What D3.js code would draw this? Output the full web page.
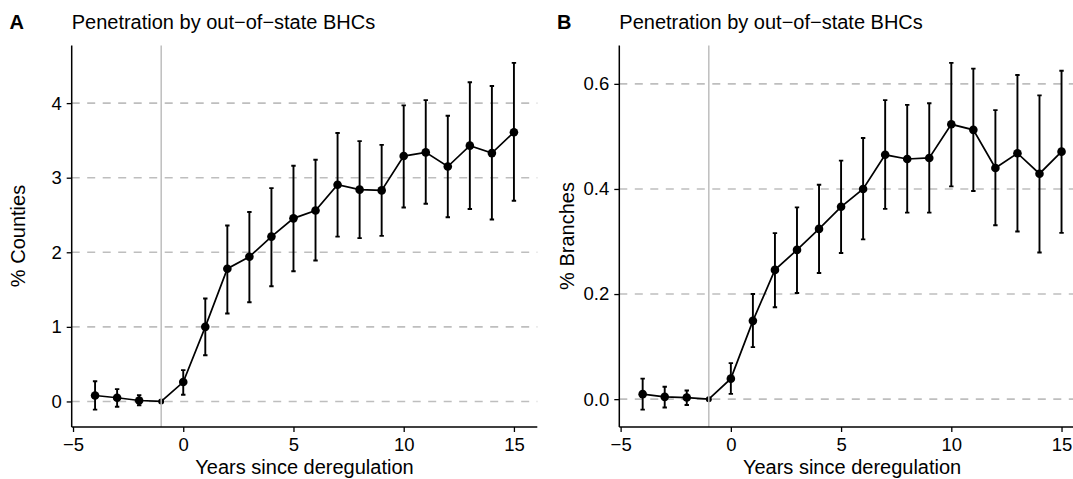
<!DOCTYPE html>
<html>
<head>
<meta charset="utf-8">
<script src="https://cdn.jsdelivr.net/npm/d3@7"></script>
<style>
  body { margin: 0; background: #fff; }
  svg { display: block; font-family: "Liberation Sans", Arial, Helvetica, sans-serif; }
</style>
</head>
<body>
<div id="chart"></div>
<script>
var width = 1073,
	height = 479;

// event time (years since deregulation)
var years = [-4, -3, -2, -1, 0, 1, 2, 3, 4, 5, 6, 7, 8, 9, 10, 11, 12, 13, 14, 15];

// panel A: % counties
var countiesEst = [0.08, 0.05, 0.013, 0, 0.26, 1.0, 1.78, 1.94, 2.21, 2.455, 2.56, 2.905, 2.84, 2.83, 3.29, 3.34, 3.15, 3.43, 3.33, 3.61];
var countiesLo = [-0.11, -0.07, -0.05, null, 0.09, 0.62, 1.18, 1.33, 1.545, 1.745, 1.89, 2.21, 2.19, 2.22, 2.60, 2.65, 2.47, 2.58, 2.44, 2.69];
var countiesHi = [0.27, 0.165, 0.085, null, 0.42, 1.38, 2.36, 2.54, 2.86, 3.16, 3.24, 3.60, 3.49, 3.44, 3.97, 4.04, 3.83, 4.28, 4.23, 4.54];

// panel B: % branches
var branchesEst = [0.0095, 0.0044, 0.003, 0, 0.039, 0.149, 0.246, 0.284, 0.324, 0.366, 0.400, 0.465, 0.457, 0.459, 0.523, 0.5125, 0.440, 0.468, 0.429, 0.471];
var branchesLo = [-0.02, -0.016, -0.011, null, 0.010, 0.099, 0.175, 0.202, 0.240, 0.278, 0.304, 0.362, 0.355, 0.355, 0.405, 0.396, 0.331, 0.319, 0.279, 0.3165];
var branchesHi = [0.039, 0.0235, 0.0165, null, 0.0685, 0.20, 0.316, 0.365, 0.408, 0.454, 0.497, 0.569, 0.560, 0.563, 0.640, 0.629, 0.550, 0.617, 0.578, 0.625];

var xTicks = [-5, 0, 5, 10, 15];
var countiesTicks = [0, 1, 2, 3, 4];
var branchesTicks = [0, 0.2, 0.4, 0.6];

var title = "Penetration by out\u2212of\u2212state BHCs",
	xLabel = "Years since deregulation";

var svg = d3.select("#chart")
	.append("svg")
	.attr("width", width)
	.attr("height", height);

function expand(lo, hi) {
	var pad = (hi - lo) * 0.05;
	return [lo - pad, hi + pad];
}

function fmtMinus(s) { return String(s).replace("-", "\u2212"); }

function drawPanel(opt) {
	var pts = years.map(function(y, i) {
		return {x: y, est: opt.est[i], lo: opt.lo[i], hi: opt.hi[i]};
	});

	var x = d3.scaleLinear()
		.domain(expand(d3.min(years) - 0.1, d3.max(years) + 0.1))
		.range([opt.left, opt.left + 465.6]);
	var yLo = d3.min(pts, function(d) { return d.lo == null ? d.est : d.lo; }),
		yHi = d3.max(pts, function(d) { return d.hi == null ? d.est : d.hi; });
	var y = d3.scaleLinear()
		.domain(expand(yLo, yHi))
		.range([427, 45.5]);

	var g = svg.append("g");

	// dashed reference lines
	g.selectAll(".grid")
		.data(opt.ticks)
		.enter()
		.append("line")
		.attr("x1", x.range()[0])
		.attr("x2", x.range()[1])
		.attr("y1", function(d) { return y(d); })
		.attr("y2", function(d) { return y(d); })
		.attr("stroke", "#bebebe")
		.attr("stroke-width", 1.6)
		.attr("stroke-dasharray", "8,7.5");

	// error bars
	var eb = pts.filter(function(d) { return d.lo != null; });
	var cap = x(0.1) - x(0);
	g.selectAll(".eb")
		.data(eb)
		.enter()
		.append("path")
		.attr("d", function(d) {
			var cx = x(d.x), a = y(d.hi), b = y(d.lo);
			return "M" + (cx - cap) + "," + a + "H" + (cx + cap) +
				"M" + cx + "," + a + "V" + b +
				"M" + (cx - cap) + "," + b + "H" + (cx + cap);
		})
		.attr("fill", "none")
		.attr("stroke", "#000")
		.attr("stroke-width", 1.9);

	// connecting line
	g.append("path")
		.datum(pts)
		.attr("d", d3.line()
			.x(function(d) { return x(d.x); })
			.y(function(d) { return y(d.est); }))
		.attr("fill", "none")
		.attr("stroke", "#000")
		.attr("stroke-width", 1.7);

	g.selectAll(".pt")
		.data(pts)
		.enter()
		.append("circle")
		.attr("cx", function(d) { return x(d.x); })
		.attr("cy", function(d) { return y(d.est); })
		.attr("r", function(d) { return d.lo == null ? 3 : 4.3; })
		.attr("fill", "#000");

	// vertical line at year -1
	g.append("line")
		.attr("x1", x(-1)).attr("x2", x(-1))
		.attr("y1", 45.5).attr("y2", 427)
		.attr("stroke", "#bebebe")
		.attr("stroke-width", 1.5);

	// axes
	var xAxis = g.append("g")
		.attr("transform", "translate(0,427)")
		.call(d3.axisBottom(x).tickValues(xTicks).tickSize(5).tickPadding(6)
			.tickFormat(function(d) { return fmtMinus(d); }));
	var yAxis = g.append("g")
		.attr("transform", "translate(" + opt.left + ",0)")
		.call(d3.axisLeft(y).tickValues(opt.ticks).tickSize(5).tickPadding(5)
			.tickFormat(opt.fmt));
	[xAxis, yAxis].forEach(function(ax) {
		ax.select(".domain").attr("stroke", "#000").attr("stroke-width", 1.5);
		ax.selectAll(".tick line").attr("stroke", "#000").attr("stroke-width", 1.3);
		ax.selectAll(".tick text")
			.attr("fill", "#000")
			.attr("font-size", "18.5px")
			.attr("font-family", "Liberation Sans, Arial, sans-serif");
	});
	xAxis.select(".domain").attr("d", "M" + x.range()[0] + ",0H" + x.range()[1]);
	yAxis.select(".domain").attr("d", "M0,427V45.5");

	// labels
	svg.append("text")
		.attr("x", opt.letterX)
		.attr("y", 28.5)
		.attr("font-size", "20px")
		.attr("font-weight", "bold")
		.text(opt.letter);
	svg.append("text")
		.attr("x", opt.left)
		.attr("y", 28.5)
		.attr("font-size", "20px")
		.text(title);
	svg.append("text")
		.attr("x", (x.range()[0] + x.range()[1]) / 2)
		.attr("y", 474)
		.attr("text-anchor", "middle")
		.attr("font-size", "20px")
		.text(xLabel);
	svg.append("text")
		.attr("transform", "translate(" + opt.yTitleX + ",236) rotate(-90)")
		.attr("text-anchor", "middle")
		.attr("font-size", "20px")
		.text(opt.yTitle);
}

drawPanel({
	left: 71.7, letter: "A", letterX: 9.5,
	est: countiesEst, lo: countiesLo, hi: countiesHi,
	ticks: countiesTicks, fmt: d3.format("d"),
	yTitle: "% Counties", yTitleX: 25
});

drawPanel({
	left: 619.3, letter: "B", letterX: 557,
	est: branchesEst, lo: branchesLo, hi: branchesHi,
	ticks: branchesTicks, fmt: d3.format(".1f"),
	yTitle: "% Branches", yTitleX: 573.5
});
</script>
</body>
</html>
